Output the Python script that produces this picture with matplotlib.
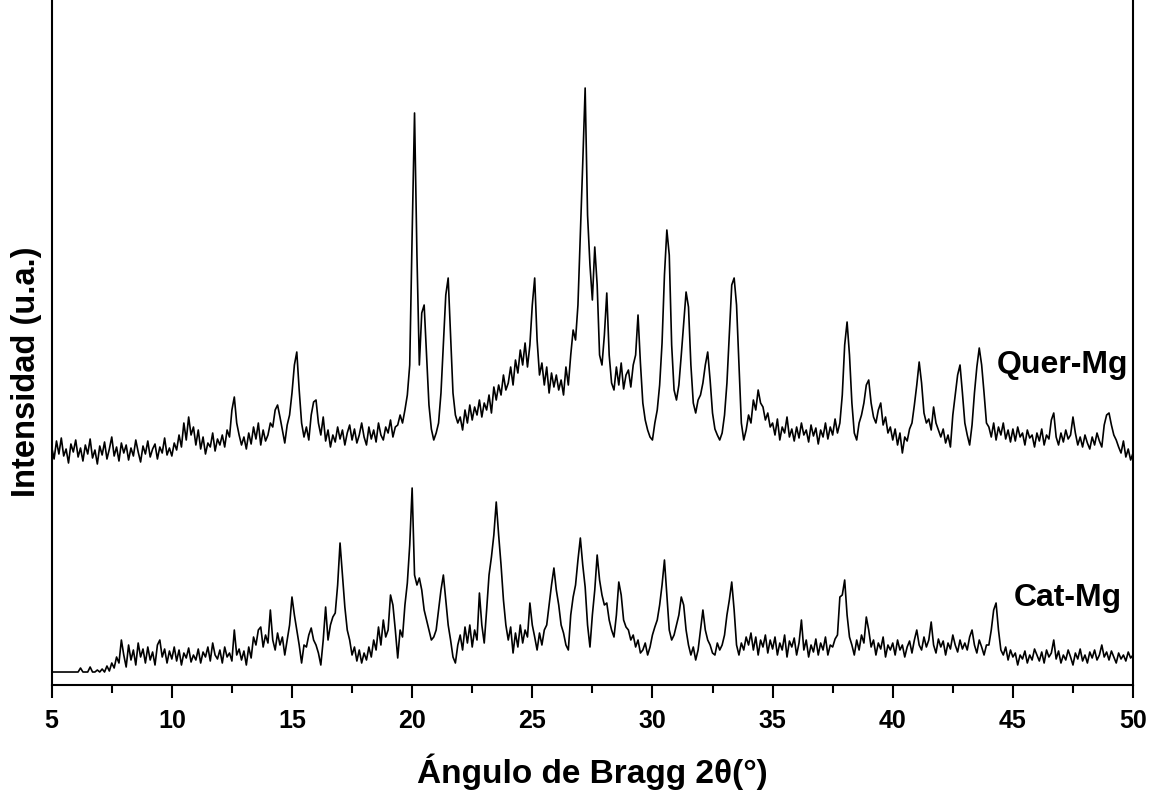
import numpy as np
import matplotlib.pyplot as plt

# difractogramas de rayos X, paso de 0.1 grados desde 5 hasta 50
paso = 0.1
inicio = 5.0

quer_mg = [
    238, 226, 244, 231, 247, 229, 236, 222, 241, 233,
    245, 228, 237, 224, 240, 231, 246, 227, 235, 221,
    239, 230, 243, 226, 236, 248, 229, 238, 224, 242,
    232, 240, 225, 237, 229, 245, 233, 223, 239, 231,
    244, 228, 236, 241, 226, 238, 232, 247, 230, 237,
    229, 242, 235, 250, 238, 262, 245, 268, 250, 258,
    240, 255, 236, 248, 231, 242, 238, 252, 234, 246,
    240, 250, 238, 255, 248, 275, 288, 262, 250, 240,
    248, 236, 252, 241, 258, 246, 262, 240, 255, 244,
    250, 262, 258, 275, 280, 268, 255, 242, 260, 270,
    292, 320, 333, 295, 262, 248, 258, 245, 270, 283,
    285, 262, 250, 268, 244, 255, 238, 250, 243, 258,
    246, 255, 240, 252, 260, 245, 256, 242, 250, 262,
    248, 240, 258, 246, 255, 243, 262, 250, 245, 258,
    252, 265, 248, 258, 260, 270, 262, 275, 290, 320,
    450, 572, 430, 320, 372, 380, 330, 280, 256, 245,
    252, 262, 292, 340, 390, 407, 350, 292, 270, 262,
    268, 255, 275, 262, 280, 265, 278, 270, 285, 268,
    282, 275, 290, 272, 298, 285, 300, 290, 310, 295,
    302, 318, 300, 325, 312, 335, 320, 342, 318, 340,
    380, 407, 345, 310, 322, 300, 318, 292, 312, 298,
    310, 295, 305, 290, 318, 300, 330, 355, 345, 380,
    450, 522, 597, 470, 420, 385, 438, 400, 330, 320,
    350, 392, 330, 302, 295, 318, 300, 322, 296, 310,
    315, 298, 320, 330, 370, 322, 282, 265, 255, 248,
    245, 262, 275, 300, 342, 410, 455, 430, 340, 295,
    285, 300, 330, 362, 393, 378, 320, 282, 272, 285,
    290, 302, 320, 333, 305, 272, 256, 250, 245, 252,
    270, 302, 350, 400, 407, 380, 320, 262, 245, 255,
    270, 262, 285, 275, 295, 282, 278, 265, 272, 258,
    262, 250, 266, 245, 258, 252, 268, 248, 256, 244,
    258, 247, 262, 250, 255, 243, 260, 249, 257, 241,
    255, 248, 262, 246, 258, 250, 266, 252, 262, 290,
    340, 363, 330, 282, 252, 245, 262, 270, 282, 300,
    305, 282, 268, 262, 275, 282, 260, 268, 252, 258,
    245, 256, 240, 252, 232, 248, 244, 256, 262, 280,
    300, 323, 302, 272, 262, 266, 255, 278, 262, 255,
    248, 256, 242, 250, 238, 270, 290, 310, 320, 292,
    262, 250, 240, 260, 292, 318, 337, 320, 292, 262,
    258, 248, 262, 245, 258, 250, 262, 246, 255, 243,
    256, 244, 258, 248, 252, 240, 255, 247, 250, 238,
    252, 244, 256, 240, 250, 246, 265, 272, 248, 240,
    252, 243, 255, 246, 250, 268, 252, 240, 248, 238,
    250, 242, 236, 248, 240, 252, 244, 238, 260, 270,
    272, 260, 250, 245, 238, 232, 244, 228, 236, 225,
    232,
]

cat_mg = [
    13, 13, 13, 13, 13, 13, 13, 13, 13, 13,
    13, 13, 17, 13, 13, 13, 18, 13, 13, 15,
    13, 16, 13, 19, 14, 22, 17, 28, 22, 45,
    30, 18, 40, 25, 35, 20, 42, 28, 36, 22,
    38, 25, 33, 20, 40, 45, 28, 36, 22, 34,
    26, 38, 24, 35, 20, 32, 27, 37, 23, 30,
    25, 36, 22, 33, 28, 38, 24, 42, 30, 26,
    35, 22, 38, 28, 32, 24, 55, 30, 36, 25,
    34, 20, 38, 27, 48, 40, 55, 58, 38, 50,
    42, 75, 45, 35, 52, 40, 48, 30, 45, 60,
    88, 70, 55, 40, 22, 40, 38, 50, 57, 45,
    40, 32, 20, 45, 78, 45, 60, 68, 72, 100,
    142, 110, 78, 55, 45, 30, 38, 24, 35, 22,
    32, 25, 38, 28, 45, 35, 58, 40, 65, 48,
    55, 90, 80, 55, 27, 55, 48, 80, 102, 140,
    197, 110, 100, 107, 95, 75, 65, 55, 45, 48,
    55, 75, 95, 110, 85, 60, 45, 28, 22, 40,
    50, 35, 58, 42, 60, 38, 55, 45, 92, 60,
    42, 75, 110, 128, 150, 183, 150, 120, 85, 60,
    45, 58, 32, 52, 38, 60, 42, 55, 48, 82,
    60, 48, 35, 52, 40, 55, 60, 80, 100, 117,
    95, 80, 60, 52, 40, 35, 70, 88, 100, 125,
    147, 120, 98, 60, 38, 70, 95, 130, 105, 90,
    80, 82, 65, 55, 48, 70, 103, 90, 65, 58,
    55, 45, 50, 38, 45, 32, 35, 42, 30, 38,
    50, 58, 65, 80, 100, 125, 90, 55, 45, 50,
    60, 70, 88, 80, 55, 40, 30, 38, 25, 35,
    55, 75, 55, 45, 40, 32, 30, 42, 35, 40,
    50, 70, 85, 103, 75, 40, 30, 42, 35, 48,
    40, 52, 35, 48, 30, 45, 38, 50, 32, 45,
    36, 48, 30, 42, 35, 50, 28, 44, 38, 47,
    30, 42, 65, 35, 45, 28, 40, 33, 46, 30,
    42, 35, 48, 30, 40, 38, 46, 50, 88, 90,
    105, 70, 48, 40, 30, 45, 35, 50, 42, 68,
    55, 38, 45, 30, 42, 36, 48, 28, 40, 35,
    42, 30, 45, 35, 40, 28, 38, 44, 32, 45,
    55, 40, 35, 48, 38, 45, 63, 40, 32, 46,
    38, 44, 30, 42, 36, 50, 40, 33, 45, 36,
    42, 35, 48, 55, 40, 32, 45, 38, 30, 40,
    40, 55, 75, 82, 55, 35, 30, 38, 25, 35,
    28, 32, 20, 30, 26, 34, 22, 30, 25, 36,
    30, 24, 33, 22, 35, 28, 32, 45, 26, 34,
    22, 30, 25, 35, 28, 20, 32, 26, 36, 24,
    30, 22, 33, 27, 35, 25, 30, 40, 28, 33,
    25, 34, 28, 22, 32, 26, 30, 24, 33, 27,
    30,
]

etiquetas = ["Quer-Mg", "Cat-Mg"]
ticks_x = [5, 10, 15, 20, 25, 30, 35, 40, 45, 50]

plt.rcParams['font.family'] = ['Liberation Sans', 'DejaVu Sans']
plt.rcParams['font.weight'] = 'bold'

two_theta = np.round(inicio + paso * np.arange(len(quer_mg)), 1)

fig = plt.figure(figsize=(11.51, 7.90), dpi=100)
ax = fig.add_axes([0.0449, 0.1329, 0.9395, 0.8671])

ax.plot(two_theta, quer_mg, color='black', lw=1.2)
ax.plot(two_theta, cat_mg, color='black', lw=1.2)

ax.set_xlim(5, 50)
ax.set_ylim(0, 685)
ax.set_xticks(ticks_x)
ax.set_xticks(np.array(ticks_x[:-1]) + 2.5, minor=True)
ax.set_yticks([])

for lado in ['left', 'right', 'bottom']:
    ax.spines[lado].set_linewidth(1.5)
ax.spines['top'].set_visible(False)

ax.tick_params(axis='x', which='major', direction='out', length=9.5, width=1.5,
               labelsize=18, pad=8)
ax.tick_params(axis='x', which='minor', direction='out', length=5.5, width=1.5)
for lbl in ax.get_xticklabels():
    lbl.set_fontweight('bold')

ax.text(47.06, 312, etiquetas[0], fontsize=23, fontweight='bold', ha='center', va='baseline')
ax.text(47.3, 79, etiquetas[1], fontsize=23, fontweight='bold', ha='center', va='baseline')

fig.text(592 / 1151, (790 - 783) / 790, "Ángulo de Bragg 2θ(°)", fontsize=24,
         fontweight='bold', ha='center', va='baseline')
fig.text(27 / 1151, (790 - 372) / 790, "Intensidad (u.a.)", fontsize=23.5,
         fontweight='bold', ha='center', va='center', rotation=90)

fig.savefig('out.png', dpi=100)
